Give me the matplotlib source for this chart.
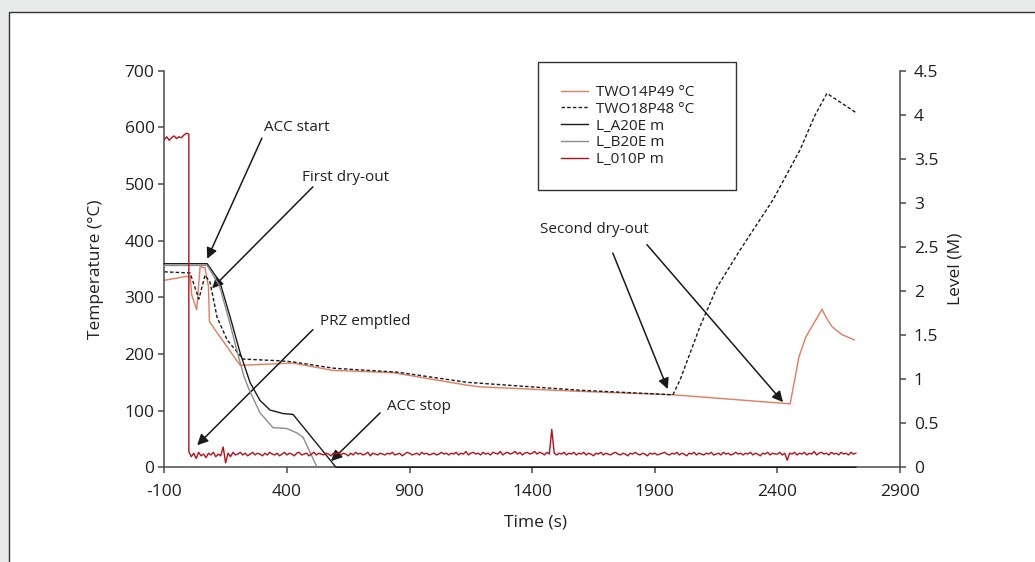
import numpy as np
import matplotlib
matplotlib.use("Agg")
import matplotlib.pyplot as plt
from matplotlib.patches import Rectangle
from matplotlib.ticker import FuncFormatter

plt.rcParams['font.family'] = ['Open Sans', 'DejaVu Sans']
plt.rcParams['axes.unicode_minus'] = False

# Temperatures (°C) vs time (s)
t_two14 = [-100, 5, 12, 32, 46, 66, 80, 84, 209, 372, 425, 588, 657, 833, 1134, 1187,
           1595, 1974, 2452, 2476, 2488, 2516, 2582, 2598, 2623, 2664, 2713]
two14 = [330, 338, 304, 278, 354, 352, 319, 257, 180, 183, 184, 171, 170, 167, 145, 142,
         134, 128, 112, 167, 195, 230, 279, 265, 248, 234, 225]

t_two18 = [-100, 5, 41, 66, 86, 99, 115, 156, 200, 221, 372, 425, 588, 657, 849, 1134,
           1595, 1974, 2003, 2084, 2154, 2247, 2382, 2492, 2553, 2602, 2724]
two18 = [345, 343, 297, 339, 327, 300, 265, 225, 202, 191, 188, 186, 175, 173, 168, 150,
         136, 128, 154, 248, 318, 383, 472, 560, 621, 660, 625]

# Levels (m) vs time (s)
t_a20e = [-100, 75, 127, 168, 209, 250, 290, 331, 384, 425, 580, 600, 2720]
l_a20e = [2.31, 2.31, 2.10, 1.71, 1.30, 0.96, 0.76, 0.65, 0.61, 0.60, 0.07, 0.0, 0.0]

t_b20e = [-100, 75, 125, 165, 205, 225, 246, 290, 343, 400, 441, 466, 523]
l_b20e = [2.29, 2.29, 2.06, 1.66, 1.23, 1.03, 0.88, 0.62, 0.45, 0.44, 0.39, 0.34, 0.0]

t_010p_pre = [-100, -90, -80, -70, -60, -50, -40, -30, -20, -10, 0]
l_010p_pre = [3.72, 3.75, 3.71, 3.74, 3.76, 3.73, 3.75, 3.74, 3.77, 3.79, 3.78]

# after the drop, sampled every 10 s from t = 0 (values in cm)
l_010p_post = [
    18, 12, 16, 10, 17, 13, 15, 11, 16, 14, 17, 12, 15, 13, 23, 5, 16, 12, 17, 14,
    15, 17, 14, 16, 13, 15, 17, 14, 16, 15, 13, 16, 14, 17, 15, 14, 16, 13, 15, 17,
    14, 16, 15, 13, 16, 17, 14, 15, 16, 13, 15, 17, 14, 16, 15, 14, 16, 15, 13, 16,
    15, 17, 14, 16, 15, 13, 16, 14, 17, 15, 16, 14, 15, 17, 13, 16, 15, 14, 16, 15,
    14, 16, 15, 17, 14, 15, 16, 13, 15, 17, 16, 14, 15, 16, 14, 17, 15, 16, 14, 15,
    16, 14, 15, 17, 15, 16, 14, 16, 15, 17, 14, 16, 15, 18, 14, 16, 17, 15, 16, 14,
    17, 15, 16, 14, 17, 16, 15, 18, 14, 16, 17, 15, 16, 18, 15, 17, 14, 16, 17, 15,
    16, 18, 15, 17, 16, 14, 17, 15, 43, 16, 14, 16, 15, 17, 14, 16, 15, 17, 14, 16,
    15, 17, 14, 16, 15, 13, 16, 15, 17, 14, 16, 15, 14, 16, 17, 15, 14, 16, 15, 13,
    16, 15, 17, 15, 14, 16, 15, 13, 16, 15, 16, 14, 15, 16, 17, 15, 14, 16, 15, 17,
    14, 16, 15, 13, 16, 15, 17, 14, 16, 15, 14, 16, 15, 17, 14, 15, 16, 14, 17, 15,
    16, 14, 15, 17, 15, 16, 14, 16, 15, 17, 14, 16, 15, 13, 16, 15, 17, 14, 16, 15,
    15, 17, 14, 16, 8, 16, 15, 17, 14, 16, 15, 17, 14, 16, 15, 18, 14, 16, 17, 15,
    16, 14, 17, 15, 16, 14, 17, 15, 16, 14, 17, 15, 16]
t_010p_post = np.arange(len(l_010p_post)) * 10

t_010p = np.concatenate([t_010p_pre, t_010p_post])
l_010p = np.concatenate([l_010p_pre, np.array(l_010p_post) / 100.0])

c_orange = '#e07c5e'
c_red = '#b3121c'
c_gray = '#8c8c8c'
c_black = '#1a1a1a'
c_axis = '#4a4a4a'
c_text = '#231f20'

fig = plt.figure(figsize=(10.35, 5.62), dpi=100, facecolor='#e9ebea')
fig.patches.append(Rectangle((9 / 1035, -0.2), 1.5, 0.2 + 550 / 562, transform=fig.transFigure,
                             facecolor='white', edgecolor='#333333', lw=1.0, zorder=-10))

ax = fig.add_axes([164.3 / 1035, 94.7 / 562, 735.7 / 1035, 396.6 / 562])
ax.set_facecolor('none')
ax2 = ax.twinx()

l1, = ax.plot(t_two14, two14, color=c_orange, lw=1.0, label='TWO14P49 °C')
l2, = ax.plot(t_two18, two18, color=c_black, lw=1.0, ls=(0, (2.5, 1.6)), label='TWO18P48 °C')
l3, = ax2.plot(t_a20e, l_a20e, color=c_black, lw=1.0, label='L_A20E m', clip_on=False)
l4, = ax2.plot(t_b20e, l_b20e, color=c_gray, lw=1.0, label='L_B20E m')
l5, = ax2.plot(t_010p, l_010p, color=c_red, lw=1.0, label='L_010P m')

ax.set_xlim(-100, 2900)
ax.set_ylim(0, 700)
ax2.set_ylim(0, 4.5)
ax.set_xticks(np.arange(-100, 3000, 500))
ax.set_yticks(np.arange(0, 800, 100))
ax2.set_yticks(np.arange(0, 5, 0.5))
ax2.yaxis.set_major_formatter(FuncFormatter(lambda v, p: '%g' % v))

for a in (ax, ax2):
    for s in a.spines.values():
        s.set_color(c_axis)
        s.set_linewidth(1.1)
    a.spines['top'].set_visible(False)
ax.spines['right'].set_visible(False)
ax2.spines['left'].set_visible(False)
ax2.spines['bottom'].set_visible(False)

ax.tick_params(axis='both', direction='out', length=4, width=1.1, color=c_axis,
               labelsize=12.5, labelcolor=c_text)
ax.tick_params(axis='x', pad=8)
ax.tick_params(axis='y', pad=3)
ax2.tick_params(axis='y', direction='out', length=4, width=1.1, color=c_axis,
                labelsize=12.5, labelcolor=c_text, pad=6)

ax.set_xlabel('Time (s)', fontsize=12.5, color=c_text)
ax.set_ylabel('Temperature (°C)', fontsize=12.5, color=c_text)
ax2.set_ylabel('Level (M)', fontsize=12.5, color=c_text)
ax.xaxis.set_label_coords(0.505, -0.12)
ax.yaxis.set_label_coords(-0.082, 0.5)
ax2.yaxis.set_label_coords(1.065, 0.5)

# annotations (positions in time / °C)
arrow = dict(arrowstyle='-|>', color=c_black, lw=1.1, mutation_scale=16, shrinkA=0, shrinkB=0)
notes = [
    ('ACC start', (442, 599), [((298, 581), (75, 368))]),
    ('First dry-out', (641, 511), [((506, 495), (95, 316))]),
    ('PRZ emptled', (718, 257), [((506, 243), (34, 39))]),
    ('ACC stop', (939, 108), [((780, 96), (580, 11))]),
    ('Second dry-out', (1652, 419), [((1729, 378), (1953, 138)), ((1868, 393), (2423, 115))]),
]
for txt, pos, arrows in notes:
    ax2.text(pos[0], pos[1] * 4.5 / 700, txt, ha='center', va='center', fontsize=11,
             color=c_text)
    for tail, head in arrows:
        ax.annotate('', xy=head, xytext=tail, arrowprops=arrow)

leg = ax2.legend(handles=[l1, l2, l3, l4, l5], loc='upper left',
                 bbox_to_anchor=(0.508, 0.72, 0.269, 0.302), mode='expand',
                 borderaxespad=0, fancybox=False, framealpha=1, edgecolor='#333333',
                 fontsize=11, borderpad=1.5, handlelength=1.8, handletextpad=0.5,
                 labelspacing=0.12)
leg.get_frame().set_linewidth(1.0)
for t in leg.get_texts():
    t.set_color(c_text)

fig.savefig('out.png', dpi=100, facecolor=fig.get_facecolor())
